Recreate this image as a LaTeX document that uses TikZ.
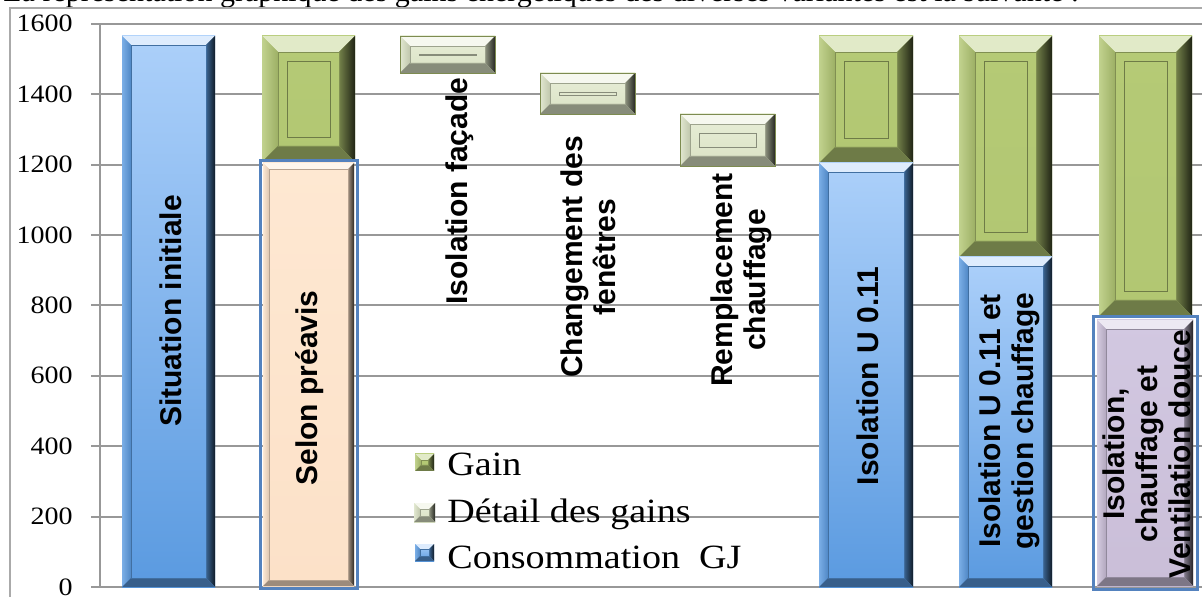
\documentclass[tikz,border=0pt]{standalone}
\usepackage{fontspec}
\setmainfont{Liberation Serif}
\newfontfamily\legfont[FakeStretch=1.12]{Liberation Serif}
\newfontfamily\barfont{Liberation Sans}
\definecolor{gridgray}{RGB}{152,152,152}
\definecolor{framegray}{RGB}{170,170,170}
\definecolor{blueT}{RGB}{172,208,250}
\definecolor{blueB}{RGB}{90,154,224}
\definecolor{greenT}{RGB}{181,202,118}
\definecolor{greenB}{RGB}{178,199,114}
\definecolor{detT}{RGB}{232,238,216}
\definecolor{detB}{RGB}{218,226,196}
\definecolor{peachT}{RGB}{254,232,210}
\definecolor{peachB}{RGB}{252,225,200}
\definecolor{lilacT}{RGB}{210,200,225}
\definecolor{lilacB}{RGB}{202,190,216}
\definecolor{edgeblue}{RGB}{84,130,190}
% bevelled box: x1 y1 x2 y2 facetop facebottom bevel panelinset
\newcommand\bevbox[8]{%
  \shade[top color=#5, bottom color=#6] (#1,#2) rectangle (#3,#4);
  \fill[#5!40!white] (#1,#2) -- (#3,#2) -- ({#3-#7},{#2+#7}) -- ({#1+#7},{#2+#7}) -- cycle;
  \shade[left color=#6!80!white, right color=#6!88!black] (#1,#2) -- ({#1+#7},{#2+#7}) -- ({#1+#7},{#4-#7}) -- (#1,#4) -- cycle;
  \shade[left color=#6!65!black, right color=#6!18!black] (#3,#2) -- ({#3-#7},{#2+#7}) -- ({#3-#7},{#4-#7}) -- (#3,#4) -- cycle;
  \fill[#6!62!black] (#1,#4) -- ({#1+#7},{#4-#7}) -- ({#3-#7},{#4-#7}) -- (#3,#4) -- cycle;
  \draw[#6!72!black, line width=0.3pt] ({#1+#7},{#2+#7}) rectangle ({#3-#7},{#4-#7});
  \ifnum#8>0 \draw[#6!62!black, line width=0.45pt] ({#1+#8},{#2+#8}) rectangle ({#3-#8},{#4-#8});\fi
}
\tikzset{
  barlabel/.style={rotate=90, align=center, inner sep=0pt, font=\barfont\bfseries\fontsize{15}{16.5}\selectfont},
  ticklabel/.style={anchor=east, inner sep=0pt, font=\legfont\fontsize{12.5}{14}\selectfont},
  legendtext/.style={anchor=base west, inner sep=0pt, font=\legfont\fontsize{17}{20}\selectfont},
  gridline/.style={gridgray, line width=1pt},
  framed/.style={edgeblue, line width=1.5pt}
}
\begin{document}
\begin{tikzpicture}[x=0.5pt,y=-0.5pt]
\useasboundingbox (0,0) rectangle (1202,597);
\fill[white] (0,0) rectangle (1202,597);
\begin{scope}
\clip (0,0) rectangle (1202,597);
% title line, cut by the top edge
\node[anchor=base west, inner sep=0pt, font=\fontsize{15}{17}\selectfont] (title) at (3,2)
  {La représentation graphique des gains énergétiques des diverses variantes est la suivante :};
% chart frame
\draw[framegray, line width=0.75pt] (10,620) -- (10,8) -- (1220,8);
% grid
\foreach \v/\lab in {0/0,200/200,400/400,600/600,800/800,1000/1000,1200/1200,1400/1400,1600/1600}{
  \draw[gridline] (91,{587-0.352*\v}) -- (1210,{587-0.352*\v});
  \node[ticklabel] (t\v) at (73,{587-0.352*\v}) {\lab};
}
\draw[gridline] (100,24) -- (100,588);
% 1 Situation initiale
\bevbox{122}{36}{215}{587}{blueT}{blueB}{9}{0}
% 2 Selon preavis
\bevbox{262}{36}{355}{162}{greenT}{greenB}{16}{25}
\bevbox{263}{163}{354}{586}{peachT}{peachB}{6}{0}
\draw[framed] (260,161) rectangle (357,588);
% 3-5 detail boxes
\bevbox{400}{36}{495}{73}{detT}{detB}{10}{19}
\draw[greenB!70!black, line width=0.4pt] (400,36) rectangle (495,73);
\bevbox{540}{73}{635}{114}{detT}{detB}{10}{19}
\draw[greenB!70!black, line width=0.4pt] (540,73) rectangle (635,114);
\bevbox{680}{114}{775}{166}{detT}{detB}{10}{19}
\draw[greenB!70!black, line width=0.4pt] (680,114) rectangle (775,166);
% 6 Isolation U 0.11
\bevbox{819}{36}{913}{163}{greenT}{greenB}{16}{25}
\bevbox{819}{163}{913}{587}{blueT}{blueB}{9}{0}
% 7 Isolation U 0.11 et gestion chauffage
\bevbox{959}{36}{1052}{257}{greenT}{greenB}{16}{25}
\bevbox{959}{257}{1052}{587}{blueT}{blueB}{9}{0}
% 8 Isolation, chauffage et ventilation douce
\bevbox{1099}{36}{1192}{316}{greenT}{greenB}{16}{25}
\bevbox{1097}{320}{1193}{586}{lilacT}{lilacB}{9}{0}
\draw[framed] (1093,317) rectangle (1197,589);
% bar labels
\node[barlabel] (l1) at (171,311) {Situation initiale};
\node[barlabel] (l2) at (310,388) {Selon préavis};
\node[barlabel] (l3) at (460,191) {Isolation façade};
\node[barlabel] (l4) at (588,257) {Changement des\\fenêtres};
\node[barlabel] (l5) at (741,280) {Remplacement\\chauffage};
\node[barlabel] (l6) at (868,376) {Isolation U 0.11};
\node[barlabel] (l7) at (1009,421) {Isolation U 0.11 et\\gestion chauffage};
\node[barlabel] (l8) at (1147,454) {Isolation,\\chauffage et\\Ventilation douce};
% legend
\bevbox{415}{454}{434}{471}{greenT}{greenB}{6}{0}
\bevbox{414}{503}{435}{522}{detT}{detB}{6}{0}
\bevbox{415}{544}{434}{561}{blueT}{blueB}{5}{0}
\node[legendtext] (g1) at (447,475) {Gain};
\node[legendtext] (g2) at (447,522) {Détail des gains};
\node[legendtext] (g3) at (447,568) {Consommation\ \ GJ};
\end{scope}
\end{tikzpicture}
\end{document}
